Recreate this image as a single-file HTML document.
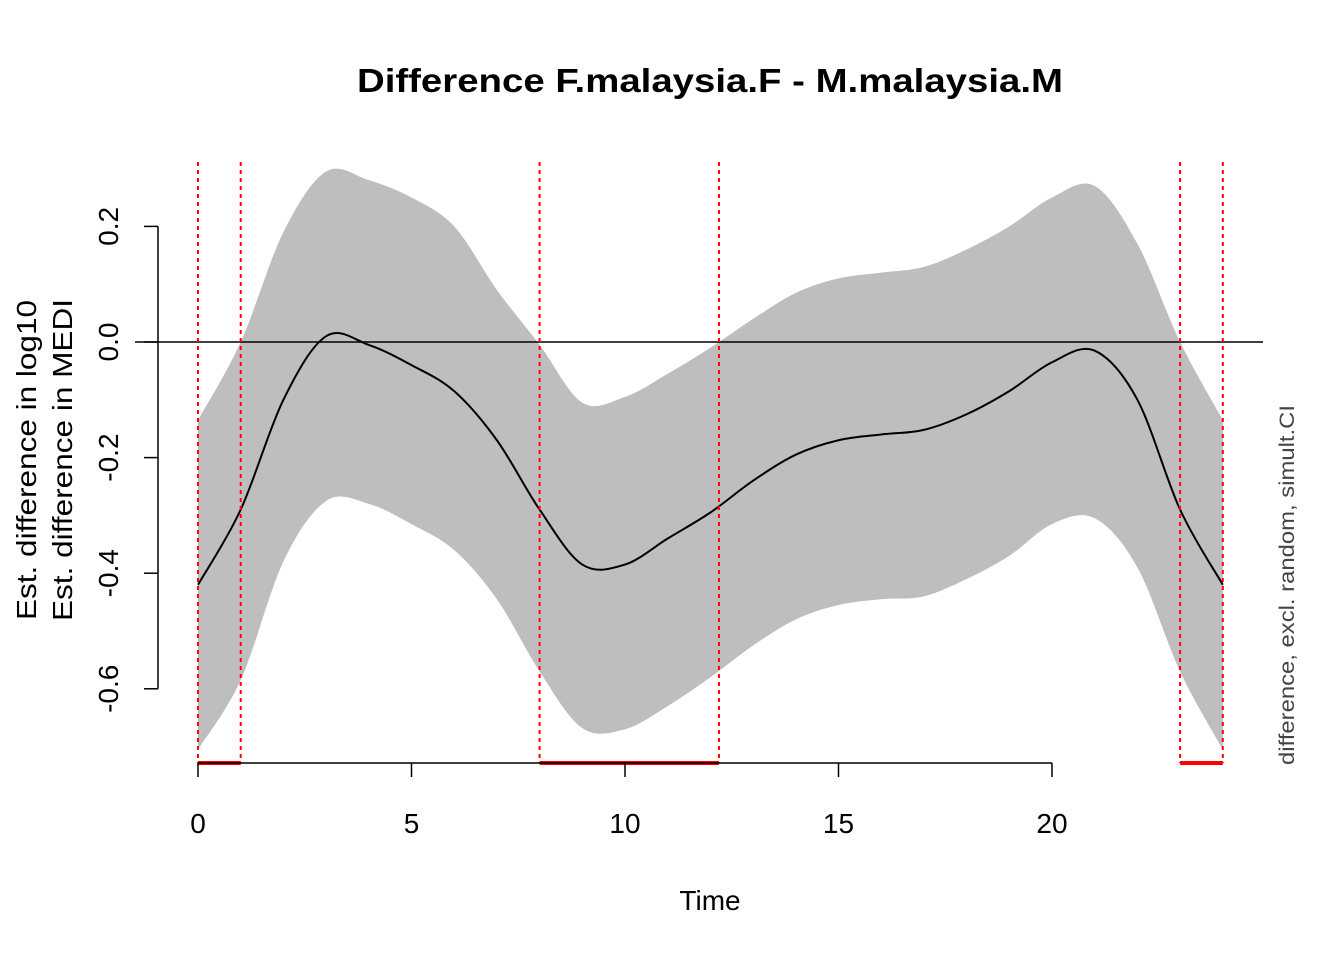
<!DOCTYPE html>
<html><head><meta charset="utf-8"><style>
body{margin:0;background:#fff}
svg{display:block;font-family:"Liberation Sans",Arial,sans-serif}
</style></head><body>
<svg id="chart" width="1344" height="960">
<text x="710" y="92" font-size="33" font-weight="bold" text-anchor="middle" textLength="706" lengthAdjust="spacingAndGlyphs">Difference F.malaysia.F - M.malaysia.M</text>
<g id="band"></g>
<line x1="135" x2="1263" y1="342" y2="342" stroke="#000" stroke-width="1.5"/>
<g id="fit"></g>
<g id="sig"></g>
<g id="xaxis"></g>
<g id="yaxis"></g>
<text x="710" y="910" font-size="28" text-anchor="middle">Time</text>
<text transform="translate(36,460) rotate(-90)" font-size="28" text-anchor="middle" textLength="320" lengthAdjust="spacingAndGlyphs">Est. difference in log10</text>
<text transform="translate(72,460) rotate(-90)" font-size="28" text-anchor="middle" textLength="322" lengthAdjust="spacingAndGlyphs">Est. difference in MEDI</text>
<text transform="translate(1294,585) rotate(-90)" font-size="21" fill="#444" text-anchor="middle" textLength="360" lengthAdjust="spacingAndGlyphs">difference, excl. random, simult.CI</text>
</svg>
<script>
const times=[0,1,2,3,4,5,6,7,8,9,10,11,12,13,14,15,16,17,18,19,20,21,22,23,24];
const fitVals=[-0.42,-0.29,-0.10,0.01,-0.005,-0.04,-0.085,-0.17,-0.29,-0.385,-0.385,-0.34,-0.295,-0.24,-0.195,-0.17,-0.16,-0.152,-0.125,-0.085,-0.035,-0.015,-0.1,-0.29,-0.42];
const upperVals=[-0.135,0.0,0.19,0.295,0.28,0.25,0.2,0.09,-0.005,-0.105,-0.095,-0.055,-0.01,0.04,0.085,0.11,0.12,0.13,0.16,0.2,0.25,0.27,0.17,0.0,-0.135];
const lowerVals=[-0.705,-0.585,-0.38,-0.275,-0.28,-0.315,-0.36,-0.445,-0.57,-0.668,-0.67,-0.63,-0.58,-0.525,-0.48,-0.455,-0.445,-0.44,-0.41,-0.37,-0.315,-0.305,-0.39,-0.57,-0.705];
const sigBounds=[0,1,8,12.2,23,24];
const sigIntervals=[[0,1],[8,12.2],[23,24]];
const xTicks=[0,5,10,15,20];
const yTicks=[0.2,0.0,-0.2,-0.4,-0.6];
const yTickLabels=["0.2","0.0","-0.2","-0.4","-0.6"];
const NS="http://www.w3.org/2000/svg";
const X=v=>198+v*(1052-198)/20;
const Y=v=>342-v*578;
function mk(t,a,p){const e=document.createElementNS(NS,t);for(const k in a)e.setAttribute(k,a[k]);p.appendChild(e);return e;}
function smooth(xs,ys){const P=xs.map((x,i)=>[X(x),Y(ys[i])]);let d="";
 for(let i=0;i<P.length-1;i++){const p0=P[Math.max(i-1,0)],p1=P[i],p2=P[i+1],p3=P[Math.min(i+2,P.length-1)];
  const c1=[p1[0]+(p2[0]-p0[0])/6,p1[1]+(p2[1]-p0[1])/6],c2=[p2[0]-(p3[0]-p1[0])/6,p2[1]-(p3[1]-p1[1])/6];
  d+=`C${c1[0]},${c1[1]} ${c2[0]},${c2[1]} ${p2[0]},${p2[1]}`;}
 return {start:P[0],d};}
const up=smooth(times,upperVals);
const lo=smooth(times.slice().reverse(),lowerVals.slice().reverse());
const band=mk("path",{d:`M${up.start[0]},${up.start[1]}${up.d}L${lo.start[0]},${lo.start[1]}${lo.d}Z`,fill:"#bebebe"},document.getElementById("band"));


const f=smooth(times,fitVals);
const fl=mk("path",{d:`M${f.start[0]},${f.start[1]}${f.d}`,fill:"none",stroke:"#000","stroke-width":2},document.getElementById("fit"));


const sig=document.getElementById("sig");
sigBounds.forEach(b=>{const l=mk("line",{x1:X(b),x2:X(b),y1:162,y2:763,stroke:"#f00","stroke-width":2,"stroke-dasharray":"4,4"},sig);
 
 });
sigIntervals.forEach(s=>{const l=mk("line",{x1:X(s[0]),x2:X(s[1]),y1:763,y2:763,stroke:"#f00","stroke-width":4},sig);
 
 });
const xa=document.getElementById("xaxis");
mk("line",{x1:X(xTicks[0]),x2:X(xTicks[xTicks.length-1]),y1:763,y2:763,stroke:"#000","stroke-width":1.5},xa);
xTicks.forEach(t=>{mk("line",{x1:X(t),x2:X(t),y1:763,y2:777,stroke:"#000","stroke-width":1.5},xa);
 const tx=mk("text",{x:X(t),y:833,"font-size":28,"text-anchor":"middle"},xa);tx.textContent=t;
 
 });
const ya=document.getElementById("yaxis");
mk("line",{x1:158,x2:158,y1:Y(yTicks[0]),y2:Y(yTicks[yTicks.length-1]),stroke:"#000","stroke-width":1.5},ya);
yTicks.forEach((t,i)=>{mk("line",{x1:144,x2:158,y1:Y(t),y2:Y(t),stroke:"#000","stroke-width":1.5},ya);
 const tx=mk("text",{transform:`translate(118,${Y(t)}) rotate(-90)`,"font-size":28,"text-anchor":"middle"},ya);tx.textContent=yTickLabels[i];
 
 });
</script>
</body></html>
